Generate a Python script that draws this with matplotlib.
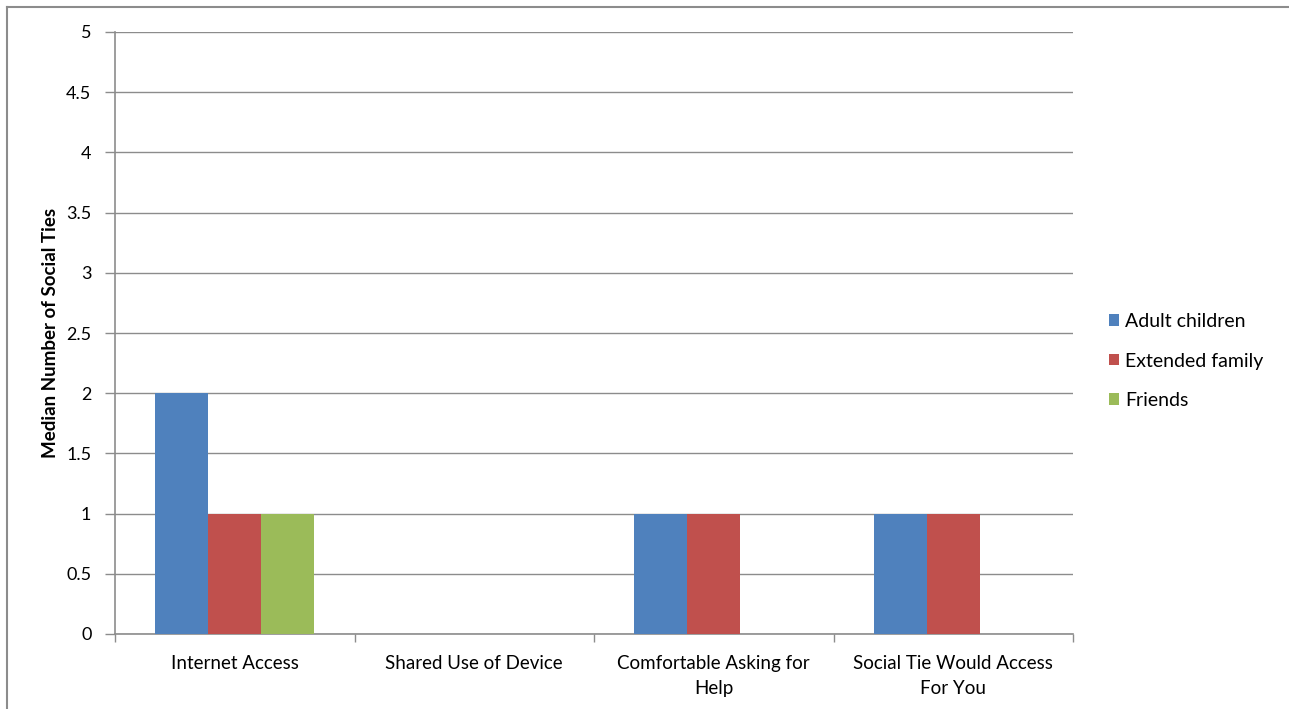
import numpy as np
import matplotlib.pyplot as plt
from matplotlib.lines import Line2D
from matplotlib.patches import Patch

categories = ["Internet Access", "Shared Use of Device",
              "Comfortable Asking for\nHelp", "Social Tie Would Access\nFor You"]
series_names = ["Adult children", "Extended family", "Friends"]
adult_children = [2, 0, 1, 1]
extended_family = [1, 0, 1, 1]
friends = [1, 0, 0, 0]
y_ticks = [0, 0.5, 1, 1.5, 2, 2.5, 3, 3.5, 4, 4.5, 5]
y_tick_labels = ["0", "0.5", "1", "1.5", "2", "2.5", "3", "3.5", "4", "4.5", "5"]

colors = ["#4F81BD", "#C0504D", "#9BBB59"]
grid_col = "#8C8C8C"

plt.rcParams["font.family"] = ["Lato", "DejaVu Sans"]

W, H = 1289, 709
fig = plt.figure(figsize=(W / 100, H / 100), dpi=100)

# outer chart frame (top and left edges)
fy = 1 - 7 / H
fx = 7 / W
fig.lines.append(Line2D([fx, 1.0], [fy, fy], transform=fig.transFigure,
                        color="#8C8C8C", linewidth=1.5))
fig.lines.append(Line2D([fx, fx], [0.0, fy], transform=fig.transFigure,
                        color="#8C8C8C", linewidth=1.5))

left, right, top, bottom = 115, 1073, 32, 634
ax = fig.add_axes([left / W, 1 - bottom / H, (right - left) / W, (bottom - top) / H])

x = np.arange(len(categories))
bw = 0.221
for i, (vals, name) in enumerate(zip([adult_children, extended_family, friends], series_names)):
    ax.bar(x + (i - 1) * bw, vals, width=bw, color=colors[i], label=name, zorder=3)

ax.set_xlim(-0.5, len(categories) - 0.5)
ax.set_ylim(0, 5)
ax.set_yticks(y_ticks)
ax.set_yticklabels(y_tick_labels, fontsize=13)
ax.yaxis.grid(True, color=grid_col, linewidth=1.0, zorder=0)

ax.set_xticks(np.arange(-0.5, len(categories)), minor=False)
ax.set_xticklabels([])
ax.set_xticks(x, minor=True)
ax.set_xticklabels(categories, minor=True, fontsize=13.5, linespacing=1.55)
ax.tick_params(axis="x", which="minor", length=0, pad=15)
ax.tick_params(axis="x", which="major", length=6, color=grid_col, width=1)
ax.tick_params(axis="y", length=7, color=grid_col, width=1, pad=10)

for s in ["top", "right"]:
    ax.spines[s].set_visible(False)
for s in ["left", "bottom"]:
    ax.spines[s].set_color(grid_col)
    ax.spines[s].set_linewidth(1.2)

ax.set_ylabel("Median Number of Social Ties", fontsize=13.5, fontweight="bold", labelpad=5)

handles = [Patch(facecolor=c, label=n) for c, n in zip(colors, series_names)]
fig.legend(handles=handles, loc="center left", bbox_to_anchor=(1091 / W, 1 - 361 / H),
           frameon=False, fontsize=14, handlelength=0.55, handleheight=0.55,
           handletextpad=0.3, labelspacing=1.15)

fig.savefig("out.png", dpi=100)
